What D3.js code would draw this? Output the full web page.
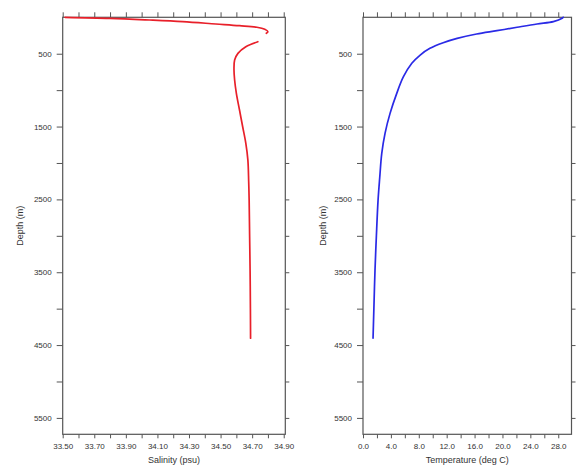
<!DOCTYPE html>
<html>
<head>
<meta charset="utf-8">
<script src="https://cdn.jsdelivr.net/npm/d3@7"></script>
<style>
  html, body { margin: 0; padding: 0; background: #fff; }
  svg { display: block; }
  text { font-family: "Liberation Sans", Arial, Helvetica, sans-serif; fill: #333; }
</style>
</head>
<body>
<svg id="chart" width="577" height="467"></svg>
<script>
// Salinity profile (psu) against depth (m); null marks a missing sample
const salinityDepth = [0, 14, 37, 60, 92, 115, 137, 165, 198, 220, 270, 335, 404, 495, 587, 724, 861, 1044, 1273, 1503, 1731, 1960, 2250, 2510, 3000, 3475, 4000, 4405];
const salinityValue = [33.515, 33.80, 34.05, 34.26, 34.47, 34.62, 34.73, 34.78, 34.80, 34.79, null, 34.736, 34.66, 34.61, 34.589, 34.585, 34.589, 34.60, 34.62, 34.64, 34.66, 34.673, 34.678, 34.681, 34.684, 34.687, 34.689, 34.69];

// Temperature profile (deg C) against depth (m)
const temperatureDepth = [0, 14, 60, 92, 137, 184, 229, 289, 349, 426, 518, 632, 816, 1044, 1319, 1593, 1868, 2200, 2510, 3000, 3475, 4000, 4405];
const temperatureValue = [28.7, 28.55, 27.3, 24.96, 22.1, 19.2, 16.3, 13.5, 11.5, 9.6, 8.2, 7.0, 5.8, 4.84, 3.88, 3.16, 2.69, 2.4, 2.16, 1.92, 1.72, 1.56, 1.44];

// Axis ticks
const depthTicks = [500, 1000, 1500, 2000, 2500, 3000, 3500, 4000, 4500, 5000, 5500];
const depthLabels = [500, 1500, 2500, 3500, 4500, 5500];
const salinityTicks = [33.5, 33.6, 33.7, 33.8, 33.9, 34.0, 34.1, 34.2, 34.3, 34.4, 34.5, 34.6, 34.7, 34.8, 34.9];
const salinityLabels = [33.5, 33.7, 33.9, 34.1, 34.3, 34.5, 34.7, 34.9];
const temperatureTicks = [0, 2, 4, 6, 8, 10, 12, 14, 16, 18, 20, 22, 24, 26, 28];
const temperatureLabels = [0, 4, 8, 12, 16, 20, 24, 28];

const svg = d3.select("#chart");
const depthDomain = [0, 5725];
const plotTop = 17.3, plotBottom = 434.3;

const panels = [
  {
    x0: 62.7, x1: 285.3, domain: [33.5, 34.91],
    ticks: salinityTicks, labels: salinityLabels, fmt: d3.format(".2f"),
    depth: salinityDepth, values: salinityValue,
    color: "#e8202a", title: "Salinity (psu)", ylabelX: 19.5
  },
  {
    x0: 363, x1: 571.5, domain: [0, 29.9],
    ticks: temperatureTicks, labels: temperatureLabels, fmt: d3.format(".1f"),
    depth: temperatureDepth, values: temperatureValue,
    color: "#2a2ae6", title: "Temperature (deg C)", ylabelX: 323
  }
];

const y = d3.scaleLinear().domain(depthDomain).range([plotTop, plotBottom]);

function styleAxis(g) {
  g.select(".domain").remove();
  g.selectAll(".tick line").attr("stroke", "#555").attr("stroke-width", 1);
  g.selectAll(".tick text").attr("font-size", 8).attr("fill", "#333")
    .style("font-family", "'Liberation Sans', Arial, sans-serif");
}

panels.forEach(p => {
  const x = d3.scaleLinear().domain(p.domain).range([p.x0, p.x1]);
  const has = (arr, v) => arr.some(a => Math.abs(a - v) < 1e-9);

  // bottom axis with labels on every other tick
  svg.append("g")
    .attr("transform", `translate(0,${plotBottom})`)
    .call(d3.axisBottom(x).tickValues(p.ticks).tickSize(4).tickPadding(5)
      .tickFormat(v => has(p.labels, v) ? p.fmt(v) : ""))
    .call(styleAxis);

  // top axis, ticks only
  svg.append("g")
    .attr("transform", `translate(0,${plotTop})`)
    .call(d3.axisTop(x).tickValues(p.ticks).tickSize(5).tickFormat(""))
    .call(styleAxis);

  // left depth axis
  svg.append("g")
    .attr("transform", `translate(${p.x0},0)`)
    .call(d3.axisLeft(y).tickValues(depthTicks).tickSize(6).tickPadding(5)
      .tickFormat(v => has(depthLabels, v) ? String(v) : ""))
    .call(styleAxis);

  // right depth axis, ticks only
  svg.append("g")
    .attr("transform", `translate(${p.x1},0)`)
    .call(d3.axisRight(y).tickValues(depthTicks).tickSize(4).tickFormat(""))
    .call(styleAxis);

  // frame
  svg.append("rect")
    .attr("x", p.x0).attr("y", plotTop)
    .attr("width", p.x1 - p.x0).attr("height", plotBottom - plotTop)
    .attr("fill", "none").attr("stroke", "#555").attr("stroke-width", 1.2);

  // profile line
  const pts = p.depth.map((d, i) => ({ d, v: p.values[i] }));
  const line = d3.line()
    .defined(q => q.v !== null)
    .x(q => x(q.v)).y(q => y(q.d))
    .curve(d3.curveCatmullRom.alpha(0.5));
  svg.append("path")
    .datum(pts)
    .attr("d", line)
    .attr("fill", "none")
    .attr("stroke", p.color)
    .attr("stroke-width", 1.7)
    .attr("stroke-linejoin", "round")
    .attr("stroke-linecap", "round");

  // axis titles
  svg.append("text")
    .attr("x", (p.x0 + p.x1) / 2).attr("y", 463)
    .attr("text-anchor", "middle").attr("font-size", 9)
    .text(p.title);

  svg.append("text")
    .attr("transform", `translate(${p.ylabelX},${(plotTop + plotBottom) / 2}) rotate(-90)`)
    .attr("text-anchor", "middle").attr("dy", "0.35em").attr("font-size", 9)
    .text("Depth (m)");
});
</script>
</body>
</html>
